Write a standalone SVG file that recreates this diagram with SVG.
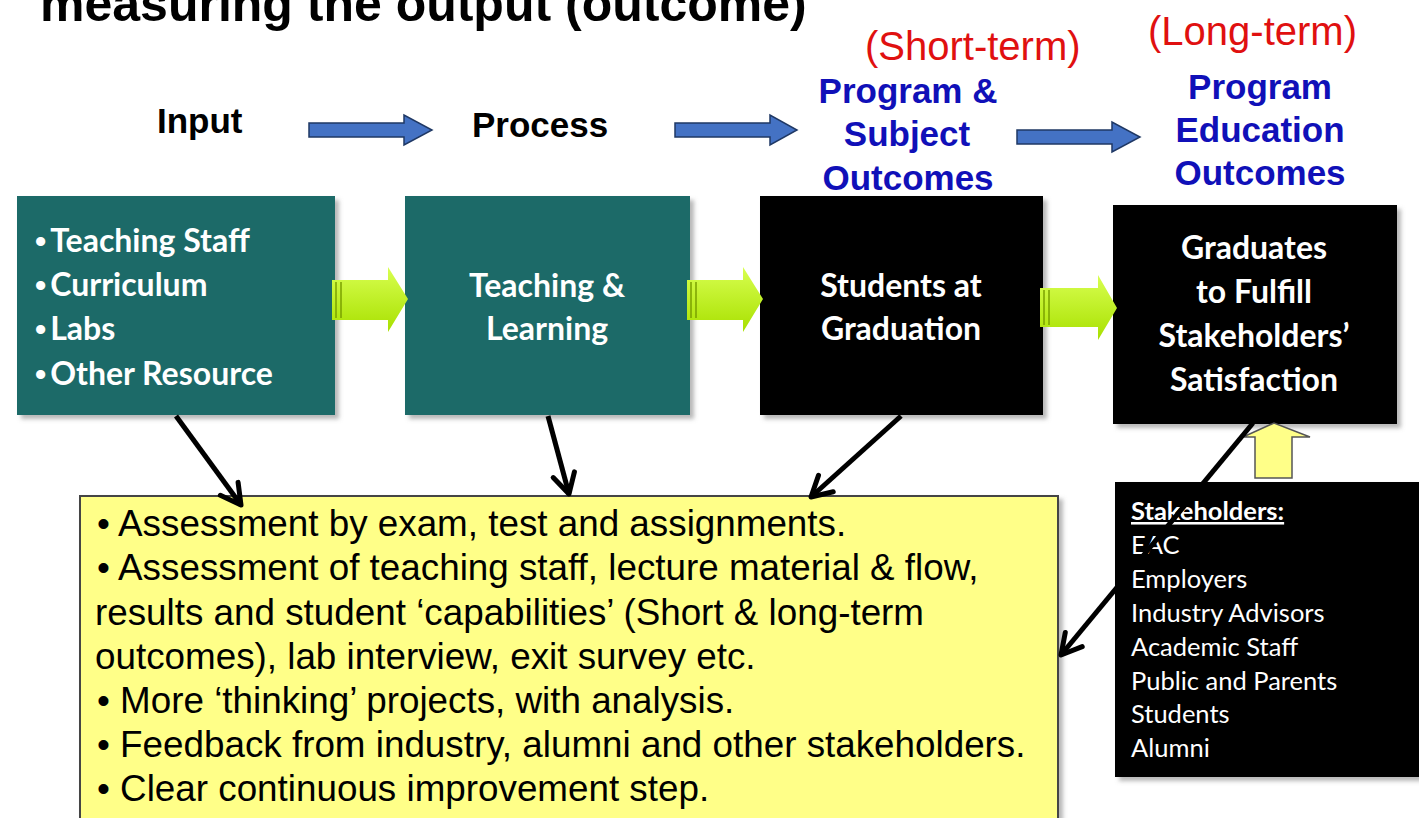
<svg xmlns="http://www.w3.org/2000/svg" width="1419" height="818" viewBox="0 0 1419 818">
<style>
.title{font-family:"Liberation Sans",Arial,sans-serif;font-weight:bold;font-size:50px;fill:#000}
.hdr{font-family:"Liberation Sans",Arial,sans-serif;font-weight:bold;font-size:35px;fill:#000}
.red{font-family:"Liberation Sans",Arial,sans-serif;font-size:40px;fill:#e01010}
.blue{font-family:"Liberation Sans",Arial,sans-serif;font-weight:bold;font-size:35px;fill:#1010b8;text-anchor:middle}
.box{font-family:Lato,"Open Sans",sans-serif;font-weight:bold;font-size:32px;fill:#fff}
.bul{font-family:"Liberation Sans",Arial,sans-serif;font-size:32px;font-weight:bold}
.ctr{text-anchor:middle}
.sk{font-family:Lato,"Open Sans",sans-serif;font-size:25.5px;fill:#fff}
.yl{font-family:"Liberation Sans",Arial,sans-serif;font-size:36.8px;fill:#000}
.teal{fill:#1b6b68}
.blk{fill:#000}
.barrow{fill:#4472c4;stroke:#1f3864;stroke-width:1.5}
.garrow{fill:url(#gg)}
.conn{stroke:#000;stroke-width:5;fill:none;marker-end:url(#ah)}
</style>
<defs>
<linearGradient id="gg" x1="0" y1="0" x2="0" y2="1">
<stop offset="0" stop-color="#d8ff50"/>
<stop offset="1" stop-color="#a8e000"/>
</linearGradient>
<marker id="ah" markerUnits="userSpaceOnUse" viewBox="0 0 30 30" markerWidth="30" markerHeight="30" refX="25" refY="15" orient="auto">
<path d="M5,4 L25,15 L5,26" fill="none" stroke="#000" stroke-width="5" stroke-linejoin="round" stroke-linecap="round"/>
</marker>
<filter id="sh" x="-5%" y="-5%" width="115%" height="115%">
<feDropShadow dx="4" dy="4" stdDeviation="2" flood-color="#888" flood-opacity="0.6"/>
</filter>
</defs>
<rect width="1419" height="818" fill="#fff"/>

<text class="title" x="40" y="21">measuring the output (outcome)</text>

<g id="headers">
<text class="hdr" x="157" y="133">Input</text>
<text class="hdr" x="472" y="137">Process</text>
<text class="red" x="865" y="60">(Short-term)</text>
<text class="red" x="1148" y="45">(Long-term)</text>
<text class="blue" x="908" y="103">Program &amp;</text>
<text class="blue" x="907" y="146">Subject</text>
<text class="blue" x="908" y="190">Outcomes</text>
<text class="blue" x="1260" y="99">Program</text>
<text class="blue" x="1260" y="142">Education</text>
<text class="blue" x="1260" y="185">Outcomes</text>
</g>

<g id="flow-arrows">
<path class="barrow" d="M309,123 H404 V115 L432,130 L404,145 V137 H309 Z"/>
<path class="barrow" d="M675,123 H770 V115 L797,130 L770,145 V137 H675 Z"/>
<path class="barrow" d="M1017,130 H1112 V122 L1140,137 L1112,152 V144 H1017 Z"/>
</g>

<g id="node-input">
<rect class="teal" x="17" y="196" width="318" height="219" filter="url(#sh)"/>
<text class="box" x="35" y="252"><tspan class="bul">•</tspan><tspan dx="4">Teaching Staff</tspan></text>
<text class="box" x="35" y="296"><tspan class="bul">•</tspan><tspan dx="4">Curriculum</tspan></text>
<text class="box" x="35" y="340"><tspan class="bul">•</tspan><tspan dx="4">Labs</tspan></text>
<text class="box" x="35" y="385"><tspan class="bul">•</tspan><tspan dx="4">Other Resource</tspan></text>
</g>

<g id="node-process">
<rect class="teal" x="405" y="196" width="285" height="219" filter="url(#sh)"/>
<text class="box ctr" x="547" y="297">Teaching &amp;</text>
<text class="box ctr" x="547" y="340">Learning</text>
</g>

<g id="node-students">
<rect class="blk" x="760" y="196" width="283" height="219" filter="url(#sh)"/>
<text class="box ctr" x="901" y="297">Students at</text>
<text class="box ctr" x="901" y="340">Graduation</text>
</g>

<g id="node-graduates">
<rect class="blk" x="1113" y="205" width="284" height="219" filter="url(#sh)"/>
<text class="box ctr" x="1254" y="259">Graduates</text>
<text class="box ctr" x="1254" y="303">to Fulfill</text>
<text class="box ctr" x="1254" y="347">Stakeholders’</text>
<text class="box ctr" x="1254" y="391">Satisfaction</text>
</g>

<g id="green-arrows">
<g>
<path class="garrow" d="M332,280 H388 V267 L408,299 L388,332 V320 H332 Z"/>
<line x1="336" y1="282" x2="336" y2="318" stroke="#7aa000" stroke-width="1.5"/>
<line x1="341" y1="282" x2="341" y2="318" stroke="#7aa000" stroke-width="1.5"/>
</g>
<g>
<path class="garrow" d="M687,280 H743 V267 L763,299 L743,332 V320 H687 Z"/>
<line x1="691" y1="282" x2="691" y2="318" stroke="#7aa000" stroke-width="1.5"/>
<line x1="696" y1="282" x2="696" y2="318" stroke="#7aa000" stroke-width="1.5"/>
</g>
<g>
<path class="garrow" d="M1040,288 H1098 V275 L1117,308 L1098,340 V327 H1040 Z"/>
<line x1="1044" y1="290" x2="1044" y2="325" stroke="#7aa000" stroke-width="1.5"/>
<line x1="1049" y1="290" x2="1049" y2="325" stroke="#7aa000" stroke-width="1.5"/>
</g>
</g>

<g id="node-assessment">
<rect x="80" y="496" width="978" height="340" fill="#ffff88" stroke="#444" stroke-width="2" filter="url(#sh)"/>
<text class="yl" x="97" y="536">• Assessment by exam, test and assignments.</text>
<text class="yl" x="97" y="580">• Assessment of teaching staff, lecture material &amp; flow,</text>
<text class="yl" x="95" y="625">results and student ‘capabilities’ (Short &amp; long-term</text>
<text class="yl" x="95" y="669">outcomes), lab interview, exit survey etc.</text>
<text class="yl" x="97" y="713">• More ‘thinking’ projects, with analysis.</text>
<text class="yl" x="97" y="757">• Feedback from industry, alumni and other stakeholders.</text>
<text class="yl" x="97" y="801">• Clear continuous improvement step.</text>
</g>

<g id="node-stakeholders">
<rect class="blk" x="1115" y="482" width="320" height="295" filter="url(#sh)"/>
<text class="sk" x="1131" y="520" font-weight="bold" text-decoration="underline">Stakeholders:</text>
<text class="sk" x="1131" y="554">EAC</text>
<text class="sk" x="1131" y="588">Employers</text>
<text class="sk" x="1131" y="622">Industry Advisors</text>
<text class="sk" x="1131" y="656">Academic Staff</text>
<text class="sk" x="1131" y="690">Public and Parents</text>
<text class="sk" x="1131" y="723">Students</text>
<text class="sk" x="1131" y="757">Alumni</text>
</g>

<g id="up-arrow">
<path d="M1255,478 V437 H1243 L1274,423 L1310,437 H1292 V478 Z" fill="#ffff88" stroke="#555" stroke-width="1.5"/>
</g>

<g id="connectors">
<line class="conn" x1="176" y1="416" x2="241" y2="505"/>
<line class="conn" x1="548" y1="416" x2="569" y2="494"/>
<line class="conn" x1="901" y1="416" x2="811" y2="497"/>
<line class="conn" x1="1253" y1="423" x2="1061" y2="655"/>
</g>
</svg>
